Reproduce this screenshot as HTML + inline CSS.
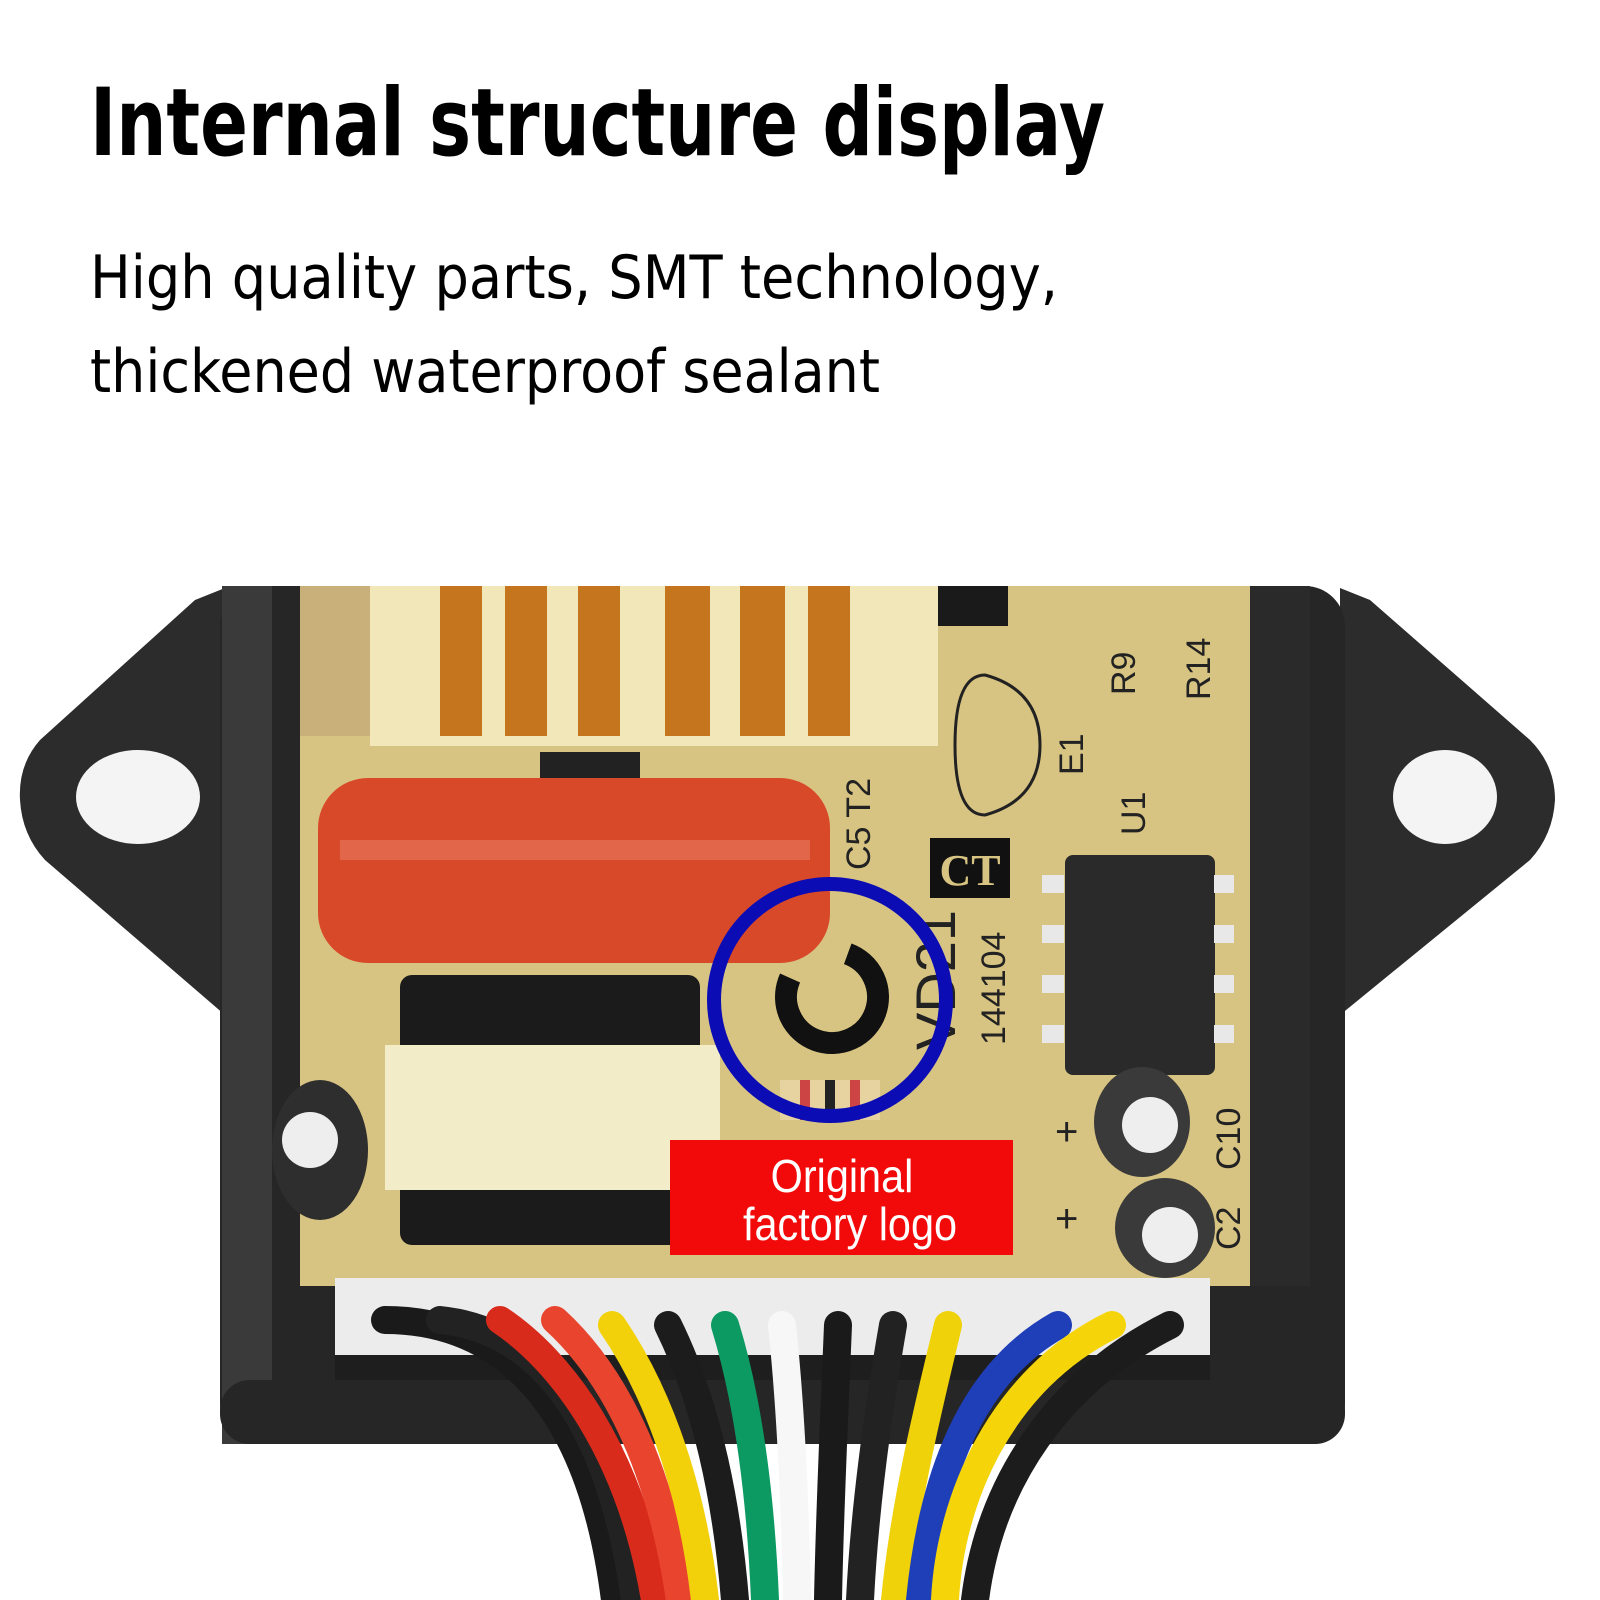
<!DOCTYPE html>
<html><head><meta charset="utf-8"><style>
html,body{margin:0;padding:0;background:#fff}
svg{display:block}
</style></head><body>
<svg width="1600" height="1600" viewBox="0 0 1600 1600" xmlns="http://www.w3.org/2000/svg">
<rect width="1600" height="1600" fill="#fff"/>
<text x="90" y="155" font-family="DejaVu Sans, Liberation Sans, sans-serif" font-weight="bold" font-size="94" textLength="1015" lengthAdjust="spacingAndGlyphs" fill="#000">Internal structure display</text>
<text x="90" y="298" font-family="DejaVu Sans, Liberation Sans, sans-serif" font-size="60" textLength="968" lengthAdjust="spacingAndGlyphs" fill="#000">High quality parts, SMT technology,</text>
<text x="90" y="392" font-family="DejaVu Sans, Liberation Sans, sans-serif" font-size="60" textLength="790" lengthAdjust="spacingAndGlyphs" fill="#000">thickened waterproof sealant</text>

<!-- housing ears -->
<path d="M225 588 L195 600 L40 740 Q18 765 20 800 Q22 835 45 860 L225 1015 Z" fill="#2c2c2c"/>
<ellipse cx="138" cy="797" rx="62" ry="47" fill="#f4f4f4"/>
<path d="M1340 588 L1370 600 L1530 740 Q1555 765 1555 800 Q1553 835 1530 860 L1340 1015 Z" fill="#2c2c2c"/>
<ellipse cx="1445" cy="797" rx="52" ry="47" fill="#f4f4f4"/>
<!-- housing body -->
<rect x="220" y="586" width="1125" height="858" rx="40" fill="#262626"/>
<rect x="222" y="586" width="50" height="858" fill="#3a3a3a"/>
<!-- PCB -->
<rect x="300" y="586" width="965" height="700" fill="#d8c482"/>
<rect x="1250" y="586" width="60" height="700" fill="#2a2a2a"/>
<!-- coil -->
<rect x="370" y="586" width="568" height="160" fill="#f2e7b8"/>
<g fill="#c5751e">
<rect x="440" y="586" width="42" height="150"/><rect x="505" y="586" width="42" height="150"/>
<rect x="578" y="586" width="42" height="150"/><rect x="665" y="586" width="45" height="150"/>
<rect x="740" y="586" width="45" height="150"/><rect x="808" y="586" width="42" height="150"/>
</g>
<rect x="300" y="586" width="70" height="150" fill="#c9b07a"/>
<rect x="938" y="586" width="70" height="40" fill="#1a1a1a"/>
<!-- red capacitor -->
<rect x="540" y="752" width="100" height="28" fill="#222"/>
<rect x="318" y="778" width="512" height="185" rx="50" fill="#d8492a"/>
<rect x="340" y="840" width="470" height="20" fill="#e87a60" opacity="0.6"/>
<!-- transformer -->
<rect x="400" y="975" width="300" height="270" rx="12" fill="#1b1b1b"/>
<rect x="385" y="1045" width="335" height="145" fill="#f2ecc8"/>
<!-- small cap left -->
<ellipse cx="320" cy="1150" rx="48" ry="70" fill="#2e2e2e"/>
<circle cx="310" cy="1140" r="28" fill="#eee"/>
<!-- E1 outline -->
<path d="M985 675 Q1040 690 1040 745 Q1040 800 985 815 Q955 815 955 745 Q955 675 985 675Z" fill="none" stroke="#222" stroke-width="3"/>
<!-- CT -->
<rect x="930" y="838" width="80" height="60" fill="#111"/>
<text x="970" y="885" text-anchor="middle" font-family="Liberation Serif, serif" font-weight="bold" font-size="44" fill="#d8c482">CT</text>
<!-- IC -->
<rect x="1065" y="855" width="150" height="220" rx="8" fill="#2a2a2a"/>
<g fill="#e8e8e8"><rect x="1042" y="875" width="22" height="18"/><rect x="1042" y="925" width="22" height="18"/><rect x="1042" y="975" width="22" height="18"/><rect x="1042" y="1025" width="22" height="18"/>
<rect x="1214" y="875" width="20" height="18"/><rect x="1214" y="925" width="20" height="18"/><rect x="1214" y="975" width="20" height="18"/><rect x="1214" y="1025" width="20" height="18"/></g>
<!-- PCB labels -->
<g font-family="Liberation Sans, sans-serif" font-size="34" fill="#222">
<text transform="translate(1135,695) rotate(-90)">R9</text>
<text transform="translate(1210,700) rotate(-90)">R14</text>
<text transform="translate(1083,775) rotate(-90)">E1</text>
<text transform="translate(1145,835) rotate(-90)">U1</text>
<text transform="translate(870,870) rotate(-90)">C5 T2</text>
<text transform="translate(1005,1045) rotate(-90)">144104</text>
<text transform="translate(955,1050) rotate(-90)" font-size="56">VD21</text>
<text transform="translate(1240,1170) rotate(-90)">C10</text>
<text transform="translate(1240,1250) rotate(-90)">C2</text>
<text x="1055" y="1145" font-size="40">+</text>
<text x="1055" y="1232" font-size="40">+</text>
</g>
<!-- caps right -->
<ellipse cx="1142" cy="1122" rx="48" ry="55" fill="#3a3a3a"/>
<circle cx="1150" cy="1125" r="28" fill="#eee"/>
<ellipse cx="1165" cy="1228" rx="50" ry="50" fill="#3a3a3a"/>
<circle cx="1170" cy="1235" r="28" fill="#eee"/>
<!-- logo -->
<circle cx="832" cy="997" r="46" fill="none" stroke="#111" stroke-width="22" stroke-dasharray="220 70" transform="rotate(-70 832 997)"/>
<!-- resistor -->
<rect x="780" y="1080" width="100" height="40" fill="#e6d3a0"/>
<rect x="800" y="1080" width="10" height="40" fill="#c44"/><rect x="825" y="1080" width="10" height="40" fill="#222"/><rect x="850" y="1080" width="10" height="40" fill="#c44"/>
<!-- blue circle -->
<circle cx="830" cy="1000" r="116" fill="none" stroke="#0c0cb4" stroke-width="14"/>
<!-- red label -->
<rect x="670" y="1140" width="343" height="115" fill="#f20a0a"/>
<text x="842" y="1192" text-anchor="middle" font-family="Liberation Sans, sans-serif" font-size="46" fill="#fff" transform="translate(842,0) scale(0.9,1) translate(-842,0)">Original</text>
<text x="850" y="1240" text-anchor="middle" font-family="Liberation Sans, sans-serif" font-size="46" fill="#fff" transform="translate(850,0) scale(0.9,1) translate(-850,0)">factory logo</text>
<!-- connector -->
<rect x="335" y="1278" width="875" height="80" fill="#ececec"/>
<rect x="335" y="1355" width="875" height="25" fill="#1e1e1e"/>
<!-- housing bottom flange -->
<rect x="220" y="1380" width="1125" height="64" rx="30" fill="#262626"/>
<!-- wires -->
<g fill="none" stroke-width="28" stroke-linecap="round">
<path d="M385 1320 C 500 1320 590 1400 615 1600" stroke="#1a1a1a"/>
<path d="M440 1320 C 540 1330 610 1420 635 1600" stroke="#222"/>
<path d="M500 1320 C 560 1360 630 1450 655 1600" stroke="#d92b1c"/>
<path d="M555 1320 C 610 1370 660 1460 680 1600" stroke="#e9452e"/>
<path d="M612 1325 C 650 1380 690 1470 705 1600" stroke="#f2d10a"/>
<path d="M668 1325 C 700 1390 725 1480 735 1600" stroke="#1c1c1c"/>
<path d="M725 1325 C 745 1390 760 1480 765 1600" stroke="#0d9a62"/>
<path d="M782 1325 C 790 1400 795 1500 797 1600" stroke="#f7f7f7"/>
<path d="M838 1325 C 835 1400 830 1500 828 1600" stroke="#1a1a1a"/>
<path d="M893 1325 C 880 1400 865 1500 860 1600" stroke="#222"/>
<path d="M948 1325 C 930 1400 905 1500 895 1600" stroke="#f0d20a"/>
<path d="M1058 1325 C 960 1380 930 1500 920 1600" stroke="#1f3fb8"/>
<path d="M1112 1325 C 1000 1380 950 1500 945 1600" stroke="#f5d50a"/>
<path d="M1170 1325 C 1060 1380 990 1480 975 1600" stroke="#1c1c1c"/>
</g>
</svg>
</body></html>
